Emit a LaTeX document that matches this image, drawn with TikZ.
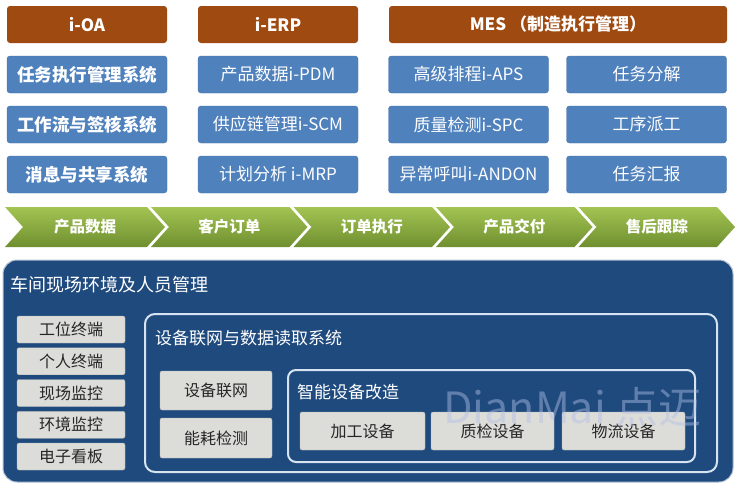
\documentclass[tikz,border=0pt]{standalone}
\usepackage{fontspec}
\newfontfamily\cjk{Noto Sans CJK SC}

\definecolor{hdrbrown}{HTML}{9E4A10}
\definecolor{boxblue}{HTML}{4F81BD}
\definecolor{panelblue}{HTML}{1F4A7E}
\definecolor{greytile}{HTML}{DCDCD8}
\definecolor{chevtop}{HTML}{A3C452}
\definecolor{chevbot}{HTML}{6F8F30}
\definecolor{framewhite}{HTML}{D6E3F0}

\tikzset{
	hdr/.style={fill=hdrbrown, rounded corners=3pt, minimum height=37pt, inner sep=0pt,
		text=white, font=\cjk\bfseries\fontsize{17}{17}\selectfont},
	blu/.style={fill=boxblue, draw=boxblue!88!black, rounded corners=3pt, minimum width=160pt,
		minimum height=37pt, inner sep=0pt, text=white, font=\cjk\fontsize{17}{17}\selectfont},
	chev/.style={text=white, inner sep=0pt, font=\cjk\bfseries\fontsize{15.5}{15.5}\selectfont},
	tile/.style={fill=greytile, draw=gray!60, rounded corners=2pt, inner sep=0pt,
		text=black!85, font=\cjk\fontsize{16}{16}\selectfont},
	frame/.style={draw=framewhite, line width=2pt, rounded corners=10pt},
	ttl/.style={anchor=west, inner sep=0pt, text=white, font=\cjk\fontsize{17}{17}\selectfont}
}

\begin{document}
\begin{tikzpicture}[x=1pt, y=-1pt]
	\useasboundingbox (0,0) rectangle (736,485);
	
	% top: three systems
	\node[hdr, minimum width=160pt] (oa) at (87,24.5) {i-OA};
	\node[hdr, minimum width=160pt] (erp) at (278,24.5) {i-ERP};
	\node[hdr, minimum width=338pt] (mes) at (558,24.5) {MES （制造执行管理）};
	
	\foreach \t [count=\r] in {任务执行管理系统, 工作流与签核系统, 消息与共享系统}
		\node[blu, font=\cjk\bfseries\fontsize{17.5}{17.5}\selectfont] (oa\r) at (87,{24.5+50*\r}) {\t};
	\foreach \t [count=\r] in {产品数据i-PDM, 供应链管理i-SCM, 计划分析 i-MRP}
		\node[blu] (erp\r) at (278,{24.5+50*\r}) {\t};
	\foreach \t [count=\r] in {高级排程i-APS, 质量检测i-SPC, 异常呼叫i-ANDON}
		\node[blu] (mes\r) at (468.5,{24.5+50*\r}) {\t};
	\foreach \t [count=\r] in {任务分解, 工序派工, 任务汇报}
		\node[blu] (task\r) at (646.5,{24.5+50*\r}) {\t};
	
	% process chevrons
	\foreach \lbl [count=\i] in {产品数据, 客户订单, 订单执行, 产品交付, 售后跟踪} {
		\pgfmathsetmacro{\R}{147+142.5*(\i-1)}
		\pgfmathsetmacro{\L}{\i==1 ? 5 : \R-138.5}
		\shade[top color=chevtop, bottom color=chevbot]
			(\L,207) -- (\R,207) -- (\R+18,227) -- (\R,247) -- (\L,247) -- (\L+18,227) -- cycle;
		\node[chev] (stage\i) at ({(\L+\R+18)/2},227) {\lbl};
	}
	
	% shop floor
	\draw[fill=panelblue, draw=panelblue!35!white, line width=1pt, rounded corners=14pt] (3,260) rectangle (733,482);
	\node[ttl, font=\cjk\fontsize{18}{18}\selectfont] (floor) at (10,285) {车间现场环境及人员管理};
	
	\foreach \t [count=\r] in {工位终端, 个人终端, 现场监控, 环境监控, 电子看板}
		\node[tile, minimum width=108pt, minimum height=27pt] (term\r) at (71,{329.5+31.75*(\r-1)}) {\t};
	
	\draw[frame] (145,314) rectangle (717,472);
	\node[ttl] (net) at (155,338) {设备联网与数据读取系统};
	\node[tile, minimum width=112pt, minimum height=39pt] (link) at (216,390.5) {设备联网};
	\node[tile, minimum width=112pt, minimum height=40pt] (energy) at (216,438) {能耗检测};
	
	\draw[frame, rounded corners=8pt] (288,370) rectangle (695,462);
	\node[ttl] (smart) at (297,392) {智能设备改造};
	\node[tile, minimum width=125pt, minimum height=38pt] (machining) at (362.5,431) {加工设备};
	\node[tile, minimum width=123pt, minimum height=38pt] (inspect) at (492.5,431) {质检设备};
	\node[tile, minimum width=123pt, minimum height=38pt] (logistics) at (623.5,431) {物流设备};
	
	\node[anchor=base west, inner sep=0pt, text=cyan!40!blue!30!white, text opacity=0.45,
		font=\cjk\fontsize{43}{43}\selectfont] (mark) at (443,423) {DianMai 点迈};
\end{tikzpicture}
\end{document}
